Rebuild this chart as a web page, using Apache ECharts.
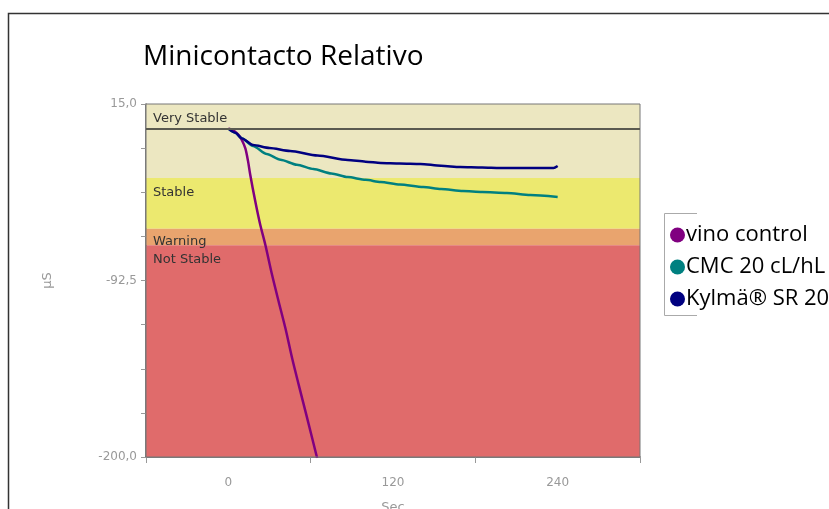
<!DOCTYPE html>
<html><head><meta charset="utf-8">
<script src="https://cdn.jsdelivr.net/npm/echarts@6/dist/echarts.min.js"></script>
<style>html,body{margin:0;padding:0;background:#fff}#c{width:829px;height:509px}</style>
</head><body><div id="c"></div>
<script>
// Data
var seriesNames = ['vino control', 'CMC 20 cL/hL', 'Kylmä® SR 20 cL/hL'];
var vinoControl = [[0,0],[1.5,-0.3],[4.5,-1.6],[7.5,-3.9],[10,-7.2],[12.4,-12],[14.3,-19.5],[16,-28.3],[19.7,-44.5],[23.3,-58.7],[27,-70.9],[31.9,-89.2],[36.7,-105.4],[41.6,-121.6],[46.5,-139.9],[51.3,-156.1],[57.4,-176.2],[64.7,-200.6]];
var cmc = [[0,0],[5,-2.5],[10,-6],[18,-10.6],[28,-15.5],[38,-19],[50,-22],[62,-24.6],[75,-27.3],[87,-29.5],[100,-31.2],[111,-32.5],[125,-34],[142,-35.5],[155,-36.7],[171,-38],[185,-38.6],[203,-39.2],[220,-40.5],[240,-41.6]];
var kylma = [[0,0],[5,-2.5],[10,-6],[18,-10],[30,-11.8],[45,-13.6],[65,-16.4],[87,-19.1],[100,-20.1],[111,-20.9],[125,-21.2],[140,-21.5],[155,-22.6],[169,-23.4],[185,-23.7],[198,-24],[215,-24],[237,-24],[240,-22.8]];
var zones = [
  {name:'Very Stable', from:15, to:-30, color:'#ece7c1'},
  {name:'Stable', from:-30, to:-61, color:'#ece96f'},
  {name:'Warning', from:-61, to:-71, color:'#e9a46e'},
  {name:'Not Stable', from:-71, to:-200, color:'#e06b6b'}
];
var xLabels = [0, 120, 240];
var yLabels = [-200, -92.5, 15];
var colors = ['#800080', '#008080', '#000080'];

var chart = echarts.init(document.getElementById('c'), null, {renderer:'canvas'});
var series = [];
var zoneZ = [1, 1.1, 1.2, 2];
var zoneOffsetY = [4, 4, 2, 4];
zones.forEach(function(z, i){
  series.push({
    type:'line', data:[], z: zoneZ[i], silent:true,
    markArea:{silent:true,
      itemStyle:{color:z.color, opacity:1},
      label:{show:true, position:'insideTopLeft', distance:4, offset:[3,zoneOffsetY[i]], color:'#333', fontFamily:'DejaVu Sans', fontSize:13},
      data:[[{name:z.name, yAxis:z.from},{yAxis:z.to}]]
    }
  });
});
series.push({type:'line', data:[], z:2.1, silent:true,
  markLine:{silent:true, symbol:'none', label:{show:false}, lineStyle:{color:'#5a5a50', width:2, type:'solid'}, data:[{yAxis:0}]}});
var datas = [vinoControl, cmc, kylma];
var zs = [3, 2.9, 3.2];
seriesNames.forEach(function(n, i){
  series.push({name:n, type:'line', data:datas[i], z:zs[i], showSymbol:false, smooth: i===0 ? 0.3 : 0.25, smoothMonotone: i===0 ? null : 'x',
    lineStyle:{color:colors[i], width:2.5}, itemStyle:{color:colors[i]}, clip:true});
});

chart.setOption({
  animation:false,
  title:{text:'Minicontacto Relativo', left:138, top:38, textStyle:{fontFamily:'Open Sans', fontWeight:'normal', fontSize:28, color:'#000'}},
  grid:{left:146, right:189, top:104, bottom:52, outerBoundsMode:'none', containLabel:false},
  legend:{left:665, top:219, orient:'vertical', itemGap:10, icon:'circle', itemWidth:15, itemHeight:15,
    textStyle:{fontFamily:'Open Sans', fontSize:22, lineHeight:22, color:'#000', padding:[0,0,0,-4]}, data:seriesNames},
  xAxis:{type:'value', min:-60, max:300, interval:120,
    name:'Sec', nameLocation:'middle', nameGap:44, nameTextStyle:{color:'#999', fontFamily:'DejaVu Sans', fontSize:13},
    axisLine:{show:true, onZero:false, lineStyle:{color:'#555', width:1.5}},
    axisTick:{show:true, length:6, lineStyle:{color:'#999'}},
    axisLabel:{customValues:xLabels, color:'#999', fontFamily:'DejaVu Sans', fontSize:12, margin:20},
    splitLine:{show:true, lineStyle:{color:'rgba(255,255,255,0.35)', type:'dashed', width:1}}
  },
  yAxis:{type:'value', min:-200, max:15, interval:26.875,
    name:'µS', nameLocation:'middle', nameGap:92, nameRotate:90, nameTextStyle:{color:'#999', fontFamily:'DejaVu Sans', fontSize:13},
    axisLine:{show:true, onZero:false, lineStyle:{color:'#555', width:1.5}},
    axisTick:{show:true, length:5, lineStyle:{color:'#999'}},
    axisLabel:{customValues:yLabels, color:'#999', fontFamily:'DejaVu Sans', fontSize:12, margin:9,
      formatter:function(v){return v.toFixed(1).replace('.', ',');}},
    splitLine:{show:false}
  },
  graphic:[
    {type:'polyline', shape:{points:[[829,13.5],[8.5,13.5],[8.5,509]]}, style:{stroke:'#333', lineWidth:1.5, fill:null}, z:10},
    {type:'rect', shape:{x:146, y:104, width:494, height:353}, style:{stroke:'#777', lineWidth:1, fill:null}, z:5},
    {type:'polyline', shape:{points:[[697,213.5],[664.5,213.5],[664.5,315.5],[697,315.5]]}, style:{stroke:'#aaa', lineWidth:1, fill:null}, z:10}
  ],
  series:series
});
</script></body></html>
